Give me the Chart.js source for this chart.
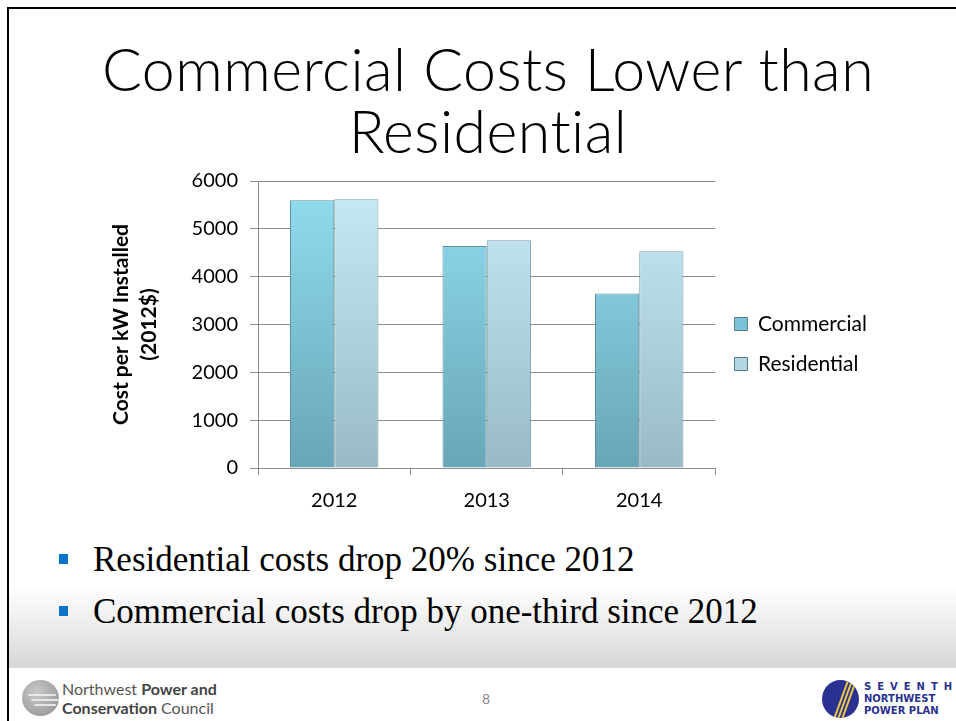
<!DOCTYPE html>
<html lang="en">
<head>
    <meta charset="UTF-8">
    <title>Commercial Costs Lower than Residential</title>
    <style>
        html, body { margin: 0; padding: 0; background: #fff; }
        #slide { position: relative; width: 956px; height: 721px; overflow: hidden; background: #fff; }
        #frame { position: absolute; left: 7px; top: 7px; width: 960px; height: 730px;
                 border-left: 2px solid #000; border-top: 2px solid #000; }
        #fade { position: absolute; left: 9px; top: 585px; width: 947px; height: 83px;
                background: linear-gradient(#ffffff, #f0f0f0 40%, #d6d6d6); }
        #title { position: absolute; left: 40px; width: 896px; top: 38px; text-align: center;
                 font-family: "Lato", sans-serif; font-weight: 300; font-size: 59px; line-height: 62px;
                 color: #000; letter-spacing: 0.5px; }
        #chartBox { position: absolute; left: 100px; top: 157px; width: 800px; height: 370px; }
        ul.bullets { position: absolute; left: 59px; top: 538px; margin: 0; padding: 0; list-style: none;
                     font-family: "Liberation Serif", "DejaVu Serif", serif; font-size: 35px; color: #000; }
        ul.bullets li { position: relative; padding-left: 34px; height: 52px; line-height: 44px; }
        ul.bullets li::before { content: ""; position: absolute; left: 0; top: 16px; width: 9px; height: 10px; background: #0b72c9; }
        .logoL { position: absolute; left: 22px; top: 680px; width: 37px; height: 36px; border-radius: 50%;
                 background: radial-gradient(circle at 40% 35%, #c8c8c8, #8e8e8e); }
        .logoL i { position: absolute; left: 6px; width: 28px; height: 2px; background: #e6e6e6; border-radius: 2px; }
        .nameL { position: absolute; left: 62px; top: 679px; font-family: "Lato", sans-serif; font-size: 16px;
                 line-height: 19px; color: #555; }
        .nameL b { color: #444; }
        #pageNo { position: absolute; left: 482px; top: 690px; font-family: "Lato", sans-serif; font-size: 14px; color: #888; }
        .logoR { position: absolute; left: 822px; top: 680px; width: 37px; height: 38px; border-radius: 50%;
                 background: #2a3190; overflow: hidden; }
        .logoR i { position: absolute; height: 40px; width: 2px; background: #e7c84a; top: 0; transform: rotate(20deg); }
        .nameR { position: absolute; left: 864px; top: 681px; font-family: "DejaVu Sans", sans-serif; font-weight: bold;
                 color: #2a3190; font-size: 10px; line-height: 12px; }
    </style>
    <script src="https://cdn.jsdelivr.net/npm/chart.js"></script>
</head>
<body>
<div id="slide">
    <div id="frame"></div>
    <div id="fade"></div>
    <div id="title">Commercial Costs Lower than<br>Residential</div>

    <div id="chartBox"><canvas id="costChart" width="800" height="370"></canvas></div>

    <ul class="bullets">
        <li>Residential costs drop 20% since 2012</li>
        <li>Commercial costs drop by one-third since 2012</li>
    </ul>

    <div class="logoL"><i style="top:14px"></i><i style="top:19px;left:9px"></i><i style="top:24px;left:12px;width:22px"></i></div>
    <div class="nameL">Northwest <b>Power and</b><br><b>Conservation</b> Council</div>
    <div id="pageNo">8</div>
    <div class="logoR"><i style="left:18px"></i><i style="left:22px"></i><i style="left:26px"></i></div>
    <div class="nameR"><span style="letter-spacing:6px">SEVENTH</span><br>NORTHWEST<br>POWER PLAN</div>
</div>

<script>
    // chart data
    const years = ['2012', '2013', '2014'];
    const commercial = [5600, 4640, 3650];
    const residential = [5620, 4760, 4530];
    const yTicksMax = 6000;
    const yTickStep = 1000;

    const chartFont = '"Lato", "Open Sans", sans-serif';

    function barGradient(top, bottom) {
        return function (context) {
            const chart = context.chart;
            const area = chart.chartArea;
            if (!area) return bottom;
            const g = chart.ctx.createLinearGradient(0, area.top, 0, area.bottom);
            g.addColorStop(0, top);
            g.addColorStop(1, bottom);
            return g;
        };
    }

    const ctx = document.getElementById('costChart').getContext('2d');
    new Chart(ctx, {
        type: 'bar',
        data: {
            labels: years,
            datasets: [{
                label: 'Commercial',
                data: commercial,
                backgroundColor: barGradient('#92ddf1', '#68a6b7'),
                borderColor: '#5a8e9c',
                borderWidth: 1,
                legendColor: '#79c3d8'
            }, {
                label: 'Residential',
                data: residential,
                backgroundColor: barGradient('#c7ecf7', '#99bac4'),
                borderColor: '#7a9faa',
                borderWidth: 1,
                legendColor: '#b3d6e0'
            }]
        },
        options: {
            responsive: false,
            animation: false,
            categoryPercentage: 0.58,
            barPercentage: 1,
            layout: { padding: { top: 4, right: 23 } },
            plugins: {
                tooltip: { enabled: false },
                legend: {
                    position: 'right',
                    labels: {
                        boxWidth: 13,
                        boxHeight: 13,
                        padding: 19,
                        color: '#000',
                        font: { family: chartFont, size: 21 },
                        generateLabels: function (chart) {
                            return chart.data.datasets.map((ds, i) => ({
                                text: ds.label,
                                fillStyle: ds.legendColor,
                                strokeStyle: '#4f7f8c',
                                lineWidth: 1,
                                datasetIndex: i,
                                hidden: false
                            }));
                        }
                    }
                }
            },
            scales: {
                x: {
                    grid: { drawOnChartArea: false, drawTicks: true, tickLength: 7, color: '#8c8c8c' },
                    border: { color: '#8c8c8c' },
                    ticks: { color: '#000', padding: 14, font: { family: chartFont, size: 20 } }
                },
                y: {
                    min: 0,
                    max: yTicksMax,
                    afterFit: function (scale) { scale.width = 158; },
                    grid: { color: '#8c8c8c', tickLength: 8 },
                    border: { color: '#8c8c8c' },
                    ticks: {
                        stepSize: yTickStep, color: '#000', padding: 12,
                        font: { family: chartFont, size: 20 },
                        callback: function (v) { return String(v); }
                    },
                    title: {
                        display: true,
                        text: ['Cost per kW Installed', '(2012$)'],
                        color: '#000',
                        padding: { top: 7, bottom: 0 },
                        font: { family: chartFont, size: 21, weight: 'bold', lineHeight: 1.33 }
                    }
                }
            }
        }
    });
</script>
</body>
</html>
